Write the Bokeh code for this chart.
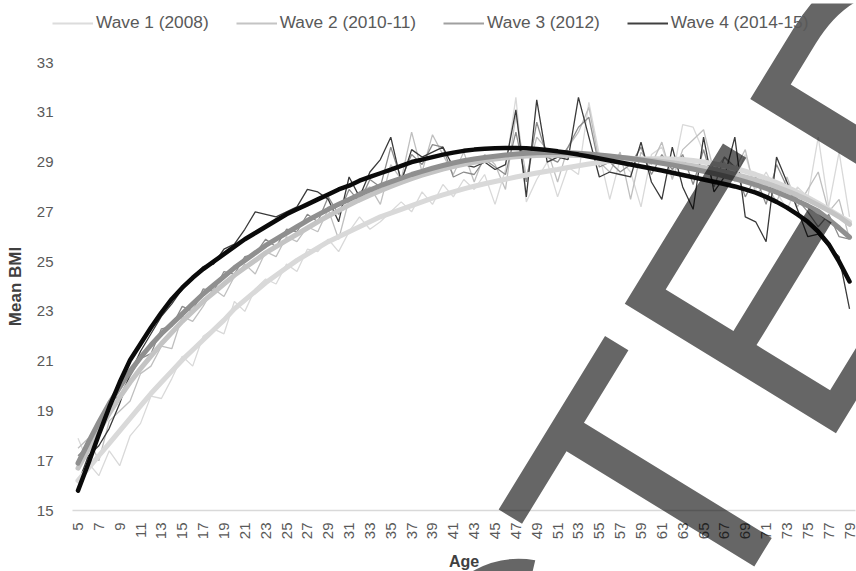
import math
from bokeh.plotting import figure
from bokeh.layouts import column
from bokeh.models import Range1d, FixedTicker, Legend, LegendItem, Label
from bokeh.embed import file_html
from bokeh.resources import INLINE

# ---------------- data ----------------
ages = list(range(5, 80))
x_tick_ages = ages[::2]
y_ticks = [15, 17, 19, 21, 23, 25, 27, 29, 31, 33]
series_names = ["Wave 1 (2008)", "Wave 2 (2010-11)", "Wave 3 (2012)", "Wave 4 (2014-15)"]

# raw mean BMI by age (thin lines)
wave1 = [17.9, 16.9, 16.4, 17.4, 16.8, 18.0, 18.5, 19.6, 19.5, 20.3,
         21.2, 20.8, 22.0, 22.3, 22.1, 23.4, 23.0, 23.9, 24.3, 24.1,
         24.9, 24.6, 25.5, 25.4, 25.9, 25.4, 26.2, 26.8, 26.3, 26.6,
         27.0, 27.4, 27.0, 27.8, 27.3, 28.1, 27.6, 28.3, 27.9, 28.5,
         27.3, 28.7, 31.6, 27.4, 28.3, 29.0, 27.6, 28.8, 28.5, 31.4,
         29.3, 27.5, 29.1, 28.6, 27.2, 29.3, 29.6, 28.4, 30.5, 30.4,
         29.4, 28.7, 29.0, 28.2, 29.3, 27.9, 28.6, 27.8, 27.1, 28.0,
         27.6, 30.0, 27.2, 29.4, 26.8]
wave2 = [17.5, 17.9, 17.0, 18.6, 19.0, 19.4, 20.5, 20.8, 21.6, 21.5,
         22.8, 22.6, 23.2, 23.9, 23.6, 24.4, 24.9, 24.5, 25.4, 25.2,
         26.0, 25.8, 26.4, 26.2, 27.1, 25.9, 27.5, 27.8, 28.0, 27.3,
         28.9, 28.3, 30.2, 28.6, 30.1, 29.3, 28.5, 29.4, 28.2, 29.3,
         28.9, 27.9, 30.9, 28.4, 30.0, 29.5, 28.2, 29.6, 30.2, 31.2,
         29.0, 28.6, 29.4, 27.5, 29.4, 28.9, 29.8, 28.3, 29.5, 29.9,
         30.3, 28.6, 29.2, 28.7, 29.5, 27.7, 28.1, 27.4, 28.4, 27.2,
         27.9, 28.6, 27.0, 27.5, 25.9]
wave3 = [17.2, 17.6, 18.0, 19.4, 19.6, 20.4, 21.1, 21.3, 22.3, 22.4,
         23.2, 23.0, 23.9, 23.8, 24.6, 24.5, 25.2, 25.3, 25.9, 25.6,
         26.3, 26.2, 26.9, 26.6, 27.6, 26.9, 27.9, 27.4, 28.3, 28.0,
         29.6, 28.3, 29.3, 28.9, 29.7, 29.6, 28.4, 28.6, 28.5, 29.1,
         28.8, 28.5, 30.2, 28.2, 30.6, 29.2, 29.0, 29.6, 30.4, 30.8,
         28.8, 29.0, 28.6, 28.9, 29.6, 28.5, 29.3, 28.7, 29.3, 28.1,
         29.5, 28.0, 29.2, 28.8, 27.6, 28.4, 27.3, 28.9, 28.0, 27.5,
         27.0, 26.4, 26.9, 26.0, 25.9]
wave4 = [16.1, 17.2, 17.6, 18.3, 19.3, 20.5, 21.4, 22.1, 22.8, 23.3,
         23.9, 24.3, 24.8, 24.9, 25.5, 25.7, 26.3, 27.0, 26.9, 26.8,
         27.0, 27.2, 27.9, 27.8, 27.5, 26.6, 28.4, 27.6, 28.6, 29.1,
         30.0, 28.2, 29.5, 29.2, 29.4, 29.6, 28.8, 28.9, 28.8, 29.0,
         28.7, 28.9, 31.1, 27.6, 31.5, 29.0, 29.2, 29.1, 31.6, 30.0,
         28.4, 28.6, 28.5, 28.4, 29.8, 28.2, 27.5, 29.6, 28.0, 27.1,
         30.0, 27.8, 28.4, 30.0, 26.8, 26.6, 25.8, 29.2, 28.2, 27.1,
         26.0, 26.1, 25.6, 25.2, 23.1]

# trend lines (thick lines)
trend1 = [16.2, 16.7, 17.2, 17.7, 18.2, 18.7, 19.2, 19.7, 20.15, 20.6,
          21.05, 21.45, 21.85, 22.25, 22.65, 23.1, 23.45, 23.8, 24.15, 24.45,
          24.75, 25.05, 25.3, 25.55, 25.8, 26.0, 26.2, 26.4, 26.6, 26.8,
          26.95, 27.1, 27.25, 27.4, 27.55, 27.68, 27.8, 27.92, 28.03, 28.13,
          28.22, 28.31, 28.4, 28.48, 28.56, 28.63, 28.7, 28.78, 28.85, 28.92,
          28.98, 29.03, 29.07, 29.1, 29.12, 29.13, 29.13, 29.12, 29.1, 29.06,
          29.0, 28.93, 28.85, 28.75, 28.63, 28.5, 28.35, 28.18, 28.0, 27.8,
          27.58, 27.35, 27.1, 26.85, 26.6]
trend2 = [16.7, 17.45, 18.2, 18.9, 19.55, 20.15, 20.7, 21.2, 21.7, 22.15,
          22.6, 23.0, 23.4, 23.75, 24.1, 24.45, 24.75, 25.05, 25.35, 25.6,
          25.85, 26.1, 26.35, 26.6, 26.83, 27.05, 27.27, 27.48, 27.67, 27.85,
          28.02, 28.18, 28.33, 28.47, 28.6, 28.72, 28.82, 28.91, 28.99, 29.06,
          29.12, 29.17, 29.21, 29.24, 29.26, 29.27, 29.27, 29.27, 29.26, 29.25,
          29.23, 29.21, 29.18, 29.15, 29.11, 29.07, 29.02, 28.97, 28.91, 28.85,
          28.78, 28.7, 28.61, 28.51, 28.4, 28.28, 28.15, 28.0, 27.84, 27.67,
          27.48, 27.27, 27.05, 26.8, 26.5]
trend3 = [16.9, 17.75, 18.55, 19.3, 19.95, 20.6, 21.15, 21.65, 22.1, 22.5,
          22.9, 23.3, 23.7, 24.05, 24.4, 24.75, 25.05, 25.35, 25.65, 25.9,
          26.15, 26.4, 26.65, 26.88, 27.1, 27.3, 27.5, 27.7, 27.88, 28.05,
          28.2, 28.35, 28.5, 28.63, 28.75, 28.86, 28.96, 29.05, 29.12, 29.18,
          29.23, 29.28, 29.32, 29.35, 29.37, 29.38, 29.38, 29.37, 29.35, 29.32,
          29.28, 29.24, 29.19, 29.14, 29.08, 29.02, 28.95, 28.88, 28.8, 28.72,
          28.63, 28.54, 28.44, 28.33, 28.21, 28.08, 27.94, 27.79, 27.62, 27.44,
          27.24, 27.02, 26.7, 26.35, 25.98]
trend4 = [15.8, 16.9, 18.05, 19.15, 20.15, 21.05, 21.7, 22.35, 22.95, 23.5,
          23.95, 24.35, 24.7, 25.0, 25.3, 25.6, 25.9, 26.15, 26.4, 26.65,
          26.9, 27.1, 27.3, 27.5, 27.7, 27.9, 28.05, 28.25, 28.4, 28.55,
          28.7, 28.85, 29.0, 29.1, 29.2, 29.3, 29.38, 29.45, 29.5, 29.53,
          29.55, 29.56, 29.56, 29.55, 29.52, 29.48, 29.43, 29.37, 29.3, 29.22,
          29.14, 29.06, 28.98, 28.9, 28.82, 28.74, 28.66, 28.57, 28.48, 28.39,
          28.3, 28.21, 28.12, 28.02, 27.9, 27.77, 27.6, 27.4, 27.17, 26.9,
          26.6, 26.2, 25.7, 25.0, 24.2]

for arr in (wave1, wave2, wave3, wave4, trend1, trend2, trend3, trend4):
    assert len(arr) == len(ages), len(arr)

raw_colors = ["#d9d9d9", "#bfbfbf", "#8c8c8c", "#3a3a3a"]
trend_colors = ["#d9d9d9", "#c4c4c4", "#8f8f8f", "#0a0a0a"]
trend_widths = [5, 5, 5, 4.5]

FONT = "Liberation Sans"

# ---------------- layout constants ----------------
W, H = 856, 570
LEFT, RIGHT, TOP, BOTTOM = 72, 1, 62, 60
FW, FH = W - LEFT - RIGHT, H - TOP - BOTTOM

# ---------------- main chart ----------------
p = figure(frame_width=FW, frame_height=FH,
           x_range=Range1d(4.4725, 79.573), y_range=Range1d(15, 33),
           output_backend="svg", toolbar_location=None,
           min_border_left=LEFT, min_border_right=RIGHT, min_border_top=TOP,
           min_border_bottom=BOTTOM, frame_align=False)
p.outline_line_color = None
p.xgrid.visible = False
p.ygrid.visible = False

for ax in (p.xaxis[0], p.yaxis[0]):
    ax.major_tick_out = 0
    ax.major_tick_in = 0
    ax.minor_tick_out = 0
    ax.minor_tick_in = 0
    ax.major_tick_line_color = None
    ax.minor_tick_line_color = None
    ax.major_label_text_font = FONT
    ax.major_label_text_color = "#595959"
    ax.axis_label_text_font = FONT
    ax.axis_label_text_font_style = "bold"
    ax.axis_label_text_color = "#404040"

xa = p.xaxis[0]
xa.ticker = FixedTicker(ticks=x_tick_ages)
xa.major_label_orientation = math.pi / 2
xa.axis_line_color = "#d9d9d9"
xa.axis_line_width = 1.5
xa.major_label_standoff = 12
xa.major_label_text_font_size = "15px"
xa.axis_label = "Age"
xa.axis_label_standoff = 11
xa.axis_label_text_font_size = "16px"

ya = p.yaxis[0]
ya.ticker = FixedTicker(ticks=y_ticks)
ya.axis_line_color = None
ya.major_label_standoff = 19
ya.major_label_text_font_size = "15px"
ya.axis_label = "Mean BMI"
ya.axis_label_standoff = 9
ya.axis_label_text_font_size = "17px"

for vals, col in zip([wave1, wave2, wave3, wave4], raw_colors):
    p.line(ages, vals, line_color=col, line_width=1.3)
for vals, col, w in zip([trend1, trend2, trend3, trend4], trend_colors, trend_widths):
    p.line(ages, vals, line_color=col, line_width=w, line_cap="round", line_join="round")

# ---------------- overlay: legend + watermark (frame = whole canvas, pixel units) ----------------
ov = figure(width=W, height=H, x_range=Range1d(0, W), y_range=Range1d(-H, 0),
            output_backend="svg", toolbar_location=None,
            x_axis_type=None, y_axis_type=None, min_border=0, frame_align=False)
ov.outline_line_color = None
ov.background_fill_alpha = 0
ov.border_fill_alpha = 0
ov.grid.visible = False
ov.styles = {"margin-top": f"-{H}px"}

# legend keys: same series, they fall outside this overlay's view, so only the keys show
key_renderers = [ov.line(ages, vals, line_color=col, line_width=2)
                 for vals, col in zip([wave1, wave2, wave3, wave4], ["#dcdcdc", "#c4c4c4", "#a0a0a0", "#404040"])]
legend = Legend(items=[LegendItem(label=n, renderers=[r]) for n, r in zip(series_names, key_renderers)],
                orientation="horizontal", location=(52, H - 30),
                background_fill_alpha=0, border_line_color=None,
                glyph_width=41, glyph_height=20, label_height=20,
                label_standoff=3, spacing=27, padding=0, margin=0,
                label_text_font=FONT, label_text_font_size="17.3px",
                label_text_color="#595959")
ov.add_layout(legend)

watermark = Label(x=400, y=-901, text="RETRACTED", angle=math.radians(58.5),
                  text_font=FONT, text_font_size="360px", text_color="black",
                  text_alpha=0.6, text_align="center", text_baseline="alphabetic")
ov.add_layout(watermark)

layout = column(p, ov, spacing=0)
open("out.html", "w").write(file_html(layout, INLINE))
